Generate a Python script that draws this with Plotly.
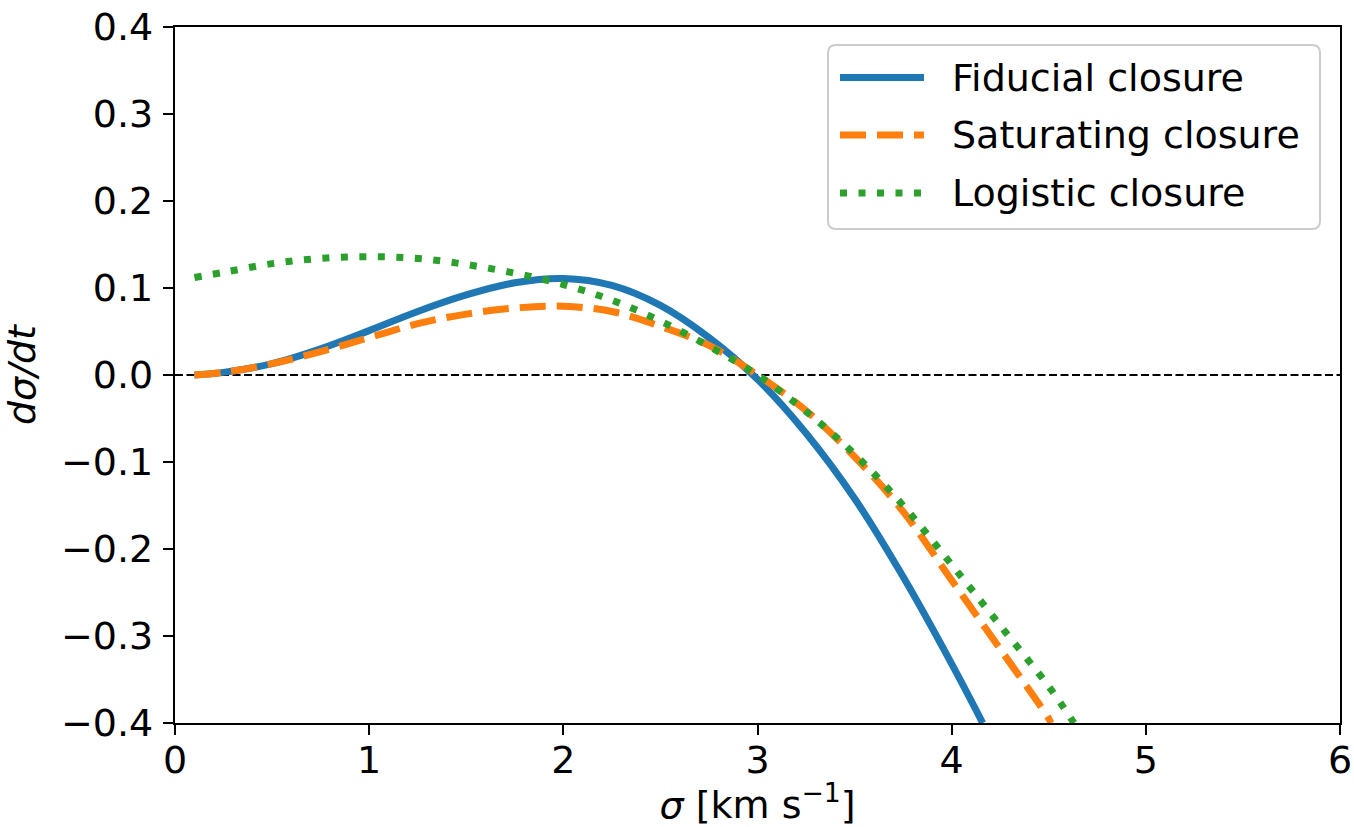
import plotly.graph_objects as go

# Fiducial closure
sigma_fid = [0.1, 0.25, 0.5, 0.75, 1.0, 1.25, 1.5, 1.75, 2.0, 2.25, 2.5, 2.75, 3.0, 3.25, 3.5, 3.75, 4.0, 4.16]
dsdt_fid = [0.0, 0.003, 0.013, 0.030, 0.051, 0.073, 0.092, 0.106, 0.111, 0.103, 0.080, 0.043, -0.005, -0.067, -0.142, -0.232, -0.332, -0.400]

# Saturating closure
sigma_sat = [0.1, 0.25, 0.5, 0.75, 1.0, 1.25, 1.5, 1.75, 2.0, 2.25, 2.5, 2.75, 3.0, 3.25, 3.5, 3.75, 4.0, 4.25, 4.5, 4.51]
dsdt_sat = [0.0, 0.003, 0.013, 0.027, 0.043, 0.059, 0.070, 0.077, 0.079, 0.073, 0.056, 0.034, 0.0, -0.041, -0.094, -0.157, -0.236, -0.315, -0.395, -0.400]

# Logistic closure
sigma_log = [0.1, 0.25, 0.5, 0.75, 1.0, 1.25, 1.5, 1.75, 2.0, 2.25, 2.5, 2.75, 3.0, 3.25, 3.5, 3.75, 4.0, 4.25, 4.5, 4.63]
dsdt_log = [0.112, 0.118, 0.128, 0.134, 0.136, 0.134, 0.127, 0.117, 0.104, 0.086, 0.062, 0.033, 0.0, -0.042, -0.091, -0.150, -0.218, -0.288, -0.358, -0.400]

series_names = ["Fiducial closure", "Saturating closure", "Logistic closure"]
series_colors = ["#1f77b4", "#ff7f0e", "#2ca02c"]
series_dashes = ["solid", "26px,11px", "7px,11.5px"]

x_ticks = [0, 1, 2, 3, 4, 5, 6]
x_ticklabels = ["0", "1", "2", "3", "4", "5", "6"]
y_ticks = [0.4, 0.3, 0.2, 0.1, 0.0, -0.1, -0.2, -0.3, -0.4]
y_ticklabels = ["0.4", "0.3", "0.2", "0.1", "0.0", "\u22120.1", "\u22120.2", "\u22120.3", "\u22120.4"]

FONT = "DejaVu Sans"
FS = 38
LW = 7

fig = go.Figure()

# zero reference line
fig.add_trace(go.Scatter(
    x=[0, 6], y=[0, 0], mode="lines",
    line=dict(color="black", width=2.2, dash="8px,3.5px"),
    showlegend=False, hoverinfo="skip",
))

for xs, ys, name, col, dash in zip(
    [sigma_fid, sigma_sat, sigma_log],
    [dsdt_fid, dsdt_sat, dsdt_log],
    series_names, series_colors, series_dashes,
):
    fig.add_trace(go.Scatter(
        x=xs, y=ys, mode="lines", name=name, showlegend=False,
        line=dict(color=col, width=LW, dash=dash, shape="spline", smoothing=1.0),
    ))

axis_common = dict(
    showgrid=False, zeroline=False,
    showline=True, linecolor="black", linewidth=2.2, mirror=True,
    ticks="outside", ticklen=10, tickwidth=2.2, tickcolor="black",
    tickfont=dict(family=FONT, size=FS, color="black"),
    ticklabeloverflow="allow",
)

fig.update_xaxes(
    range=[0, 6], tickmode="array", tickvals=x_ticks, ticktext=x_ticklabels,
    ticklabelstandoff=-8,
    title=dict(text="<i>σ</i> [km s<sup>\u22121</sup>]", font=dict(family=FONT, size=FS, color="black"), standoff=16),
    **axis_common,
)
fig.update_yaxes(
    range=[-0.4, 0.4], tickmode="array", tickvals=y_ticks, ticktext=y_ticklabels,
    ticklabelstandoff=2,
    title=dict(text="<i>dσ/dt</i>", font=dict(family=FONT, size=FS, color="black"), standoff=32),
    **axis_common,
)

# ---- custom legend (matplotlib style) ----
PW, PH = 1165.0, 696.0  # plot area size in px


def px2paper(px, py):
    return (px - 175.0) / PW, (723.0 - py) / PH


bx0, by0 = px2paper(828, 229)
bx1, by1 = px2paper(1320, 45)
rx, ry = 8 / PW, 8 / PH
box_path = (
    f"M{bx0+rx},{by0} L{bx1-rx},{by0} Q{bx1},{by0} {bx1},{by0+ry} "
    f"L{bx1},{by1-ry} Q{bx1},{by1} {bx1-rx},{by1} "
    f"L{bx0+rx},{by1} Q{bx0},{by1} {bx0},{by1-ry} "
    f"L{bx0},{by0+ry} Q{bx0},{by0} {bx0+rx},{by0} Z"
)
shapes = [dict(
    type="path", path=box_path, xref="paper", yref="paper",
    line=dict(color="#cccccc", width=2), fillcolor="rgba(255,255,255,0.8)", layer="above",
)]
annotations = []
row_y = [77.5, 135, 193]
for ry_px, name, col, dash in zip(row_y, series_names, series_colors, series_dashes):
    lx0, ly = px2paper(840, ry_px)
    lx1, _ = px2paper(924, ry_px)
    shapes.append(dict(
        type="line", xref="paper", yref="paper", x0=lx0, x1=lx1, y0=ly, y1=ly,
        line=dict(color=col, width=LW, dash=dash), layer="above",
    ))
    tx, _ = px2paper(951, ry_px)
    annotations.append(dict(
        text=name, xref="paper", yref="paper", x=tx, y=ly,
        xanchor="left", yanchor="middle", showarrow=False, borderpad=0,
        font=dict(family=FONT, size=FS, color="black"),
    ))

fig.update_layout(
    width=1354, height=827,
    margin=dict(l=175, r=14, t=27, b=104, autoexpand=False),
    paper_bgcolor="white", plot_bgcolor="white",
    font=dict(family=FONT, size=FS, color="black"),
    showlegend=False,
    shapes=shapes,
    annotations=annotations,
)

fig.write_html(
    "out.html",
    config={"displayModeBar": False},
    post_script="document.body.style.margin='0';document.body.style.overflow='hidden';",
)
